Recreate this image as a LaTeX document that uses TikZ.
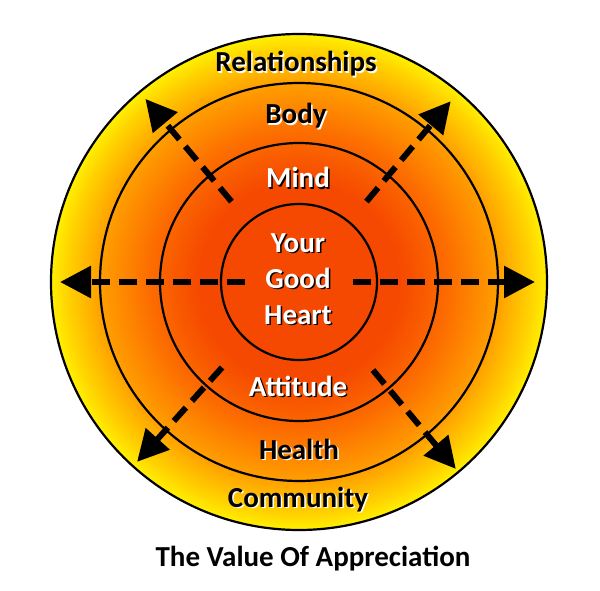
\documentclass[tikz,border=0pt]{standalone}
\usepackage{fontspec}
\setmainfont{Carlito}
\usetikzlibrary{arrows.meta}
\definecolor{coreColor}{RGB}{245,72,0}
\definecolor{midColor}{RGB}{252,108,0}
\definecolor{orangeColor}{RGB}{255,158,0}
\definecolor{lightColor}{RGB}{255,212,0}
\definecolor{rimColor}{RGB}{255,240,0}
% the middle 50bp square is fitted to the circle, so its rim sits at 25bp
\pgfdeclareradialshading{glow}{\pgfpoint{0bp}{0bp}}{color(0bp)=(coreColor); color(10bp)=(coreColor); color(15bp)=(midColor); color(20bp)=(orangeColor); color(23.5bp)=(lightColor); color(25bp)=(rimColor); color(50bp)=(rimColor)}
\newcommand{\ringfont}{\fontsize{29}{36}\selectfont\bfseries}
% label drawn twice: shadow first, then the text
\newcommand{\shadowlabel}[5]{%
  \node[lbl, text=#4] (#1-sh) at ([shift={(1.5,-1.5)}]#2) {#5};
  \node[lbl, text=#3] (#1) at (#2) {#5};}

\begin{document}
\begin{tikzpicture}[x=1pt, y=1pt,
    ring/.style={circle, draw, line width=2.2pt, inner sep=0pt},
    lbl/.style={font=\ringfont, align=center, inner sep=0pt, anchor=base},
    arr/.style={-{Triangle[length=31pt, width=31pt]}, line width=6pt, dash pattern=on 18pt off 9pt},
  ]
  \useasboundingbox (0,0) rectangle (600,590);
  \coordinate (c) at (299,308);

  \node[ring, minimum size=496pt, shade, shading=glow] (outer) at (c) {};
  \node[ring, minimum size=398pt] (body) at (c) {};
  \node[ring, minimum size=278pt] (mind) at (c) {};
  \node[ring, minimum size=156pt] (heart) at (c) {};

  \foreach \ang/\from/\to in {0/54/236, 180/54/239, 50/105/236, 130/105/239, 228/115/242, 310/115/244} {
    \coordinate (from\ang) at ([shift={(\ang:\from)}]c);
    \coordinate (to\ang) at ([shift={(\ang:\to)}]c);
    \draw[arr] (from\ang) -- (to\ang);
  }

  \shadowlabel{rel}{296,518}{black}{white}{Relationships}
  \shadowlabel{bod}{296,466}{black}{white}{Body}
  \shadowlabel{mnd}{298,402}{white}{black}{Mind}
  \node[lbl, text=black, anchor=center] (good-sh) at (299.5,309.5) {Your\\Good\\Heart};
  \node[lbl, text=white, anchor=center] (good) at (298,311) {Your\\Good\\Heart};
  \shadowlabel{att}{298,194}{white}{black}{Attitude}
  \shadowlabel{hea}{299,131}{black}{white}{Health}
  \shadowlabel{com}{298,83}{black}{white}{Community}
  \node[lbl, text=black] (title) at (313,24) {The Value Of Appreciation};
\end{tikzpicture}
\end{document}
